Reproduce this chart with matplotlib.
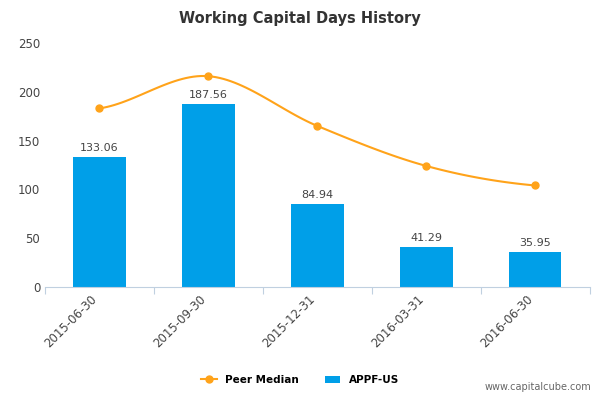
import numpy as np
import matplotlib.pyplot as plt

dates = ['2015-06-30', '2015-09-30', '2015-12-31', '2016-03-31', '2016-06-30']
appf = [133.06, 187.56, 84.94, 41.29, 35.95]
peer = [183, 216, 165, 124, 104]


def smooth(xs, ys, n=30):
    # catmull-rom spline through the points
    xs = np.asarray(xs, float)
    ys = np.asarray(ys, float)
    px = np.concatenate([[2 * xs[0] - xs[1]], xs, [2 * xs[-1] - xs[-2]]])
    py = np.concatenate([[ys[0]], ys, [ys[-1]]])
    ox, oy = [], []
    for i in range(1, len(px) - 2):
        t = np.linspace(0, 1, n)
        for arr, out in ((px, ox), (py, oy)):
            p0, p1, p2, p3 = arr[i - 1:i + 3]
            out.extend(0.5 * (2 * p1 + (-p0 + p2) * t
                              + (2 * p0 - 5 * p1 + 4 * p2 - p3) * t ** 2
                              + (-p0 + 3 * p1 - 3 * p2 + p3) * t ** 3))
    return ox, oy


fig = plt.figure(figsize=(6, 4), dpi=100)
ax = fig.add_axes([0.075, 0.2825, 0.908, 0.61])

x = np.arange(len(dates))
bars = ax.bar(x, appf, width=0.48, color='#009FE8', label='APPF-US', zorder=2)
for xi, v in zip(x, appf):
    ax.text(xi, v + 4, f'{v:.2f}', ha='center', va='bottom', fontsize=8, color='#444444')

sx, sy = smooth(x, peer)
ax.plot(sx, sy, color='#FFA31A', lw=1.5, zorder=3)
ax.plot(x, peer, 'o', color='#FFA31A', ms=5, zorder=4)
ax.plot([], [], '-o', color='#FFA31A', ms=5, lw=1.5, label='Peer Median')

ax.set_xlim(-0.5, len(dates) - 0.5)
ax.set_ylim(0, 250)
ax.set_yticks(range(0, 251, 50))
ax.set_xticks(np.arange(-0.5, len(dates), 1), minor=False)
ax.set_xticklabels([''] * (len(dates) + 1))
ax.set_xticks(x, minor=True)
ax.set_xticklabels(dates, minor=True, rotation=45, ha='right', fontsize=8.5, color='#444444')
ax.tick_params(axis='x', which='minor', length=0, pad=4)
ax.tick_params(axis='x', which='major', length=5, color='#C0D0E0')
ax.tick_params(axis='y', length=0, labelsize=8.5, labelcolor='#444444')
for s in ('top', 'right', 'left'):
    ax.spines[s].set_visible(False)
ax.spines['bottom'].set_color('#C0D0E0')

fig.text(0.5, 0.955, 'Working Capital Days History', ha='center', va='center',
         fontsize=10.5, fontweight='bold', color='#333333')
fig.legend(loc='center', bbox_to_anchor=(0.5, 0.05), ncol=2, frameon=False,
           prop={'size': 7.5, 'weight': 'bold'}, handlelength=1.5, columnspacing=2.5)
fig.text(0.985, 0.02, 'www.capitalcube.com', ha='right', va='bottom', fontsize=7, color='#666666')

fig.savefig('out.png', dpi=100)
